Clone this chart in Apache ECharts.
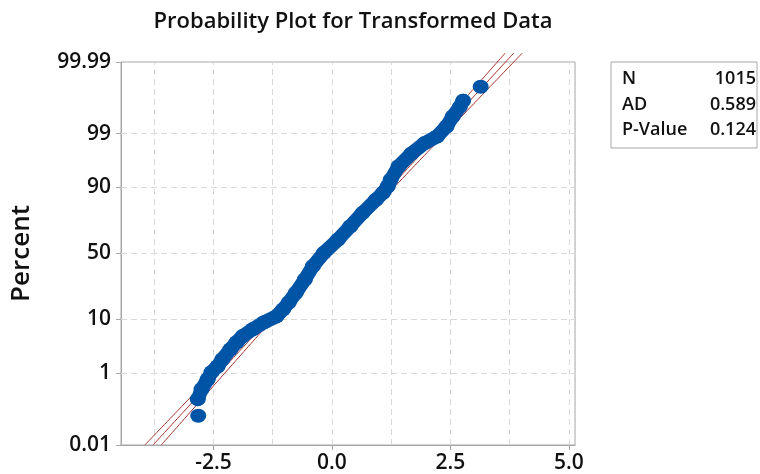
<!DOCTYPE html>
<html><head><meta charset="utf-8">
<script src="https://cdn.jsdelivr.net/npm/echarts@6/dist/echarts.min.js"></script>
<style>html,body{margin:0;padding:0;background:#fff}#c{width:760px;height:474px}</style>
</head><body><div id="c"></div>
<script>
// ---------- data ----------
const titleText = 'Probability Plot for Transformed Data';
const yAxisName = 'Percent';
const percentTicks = [0.01, 1, 10, 50, 90, 99, 99.99];
const percentTickLabels = ['0.01', '1', '10', '50', '90', '99', '99.99'];
const percentGrid = [1, 10, 50, 90, 99];
const xTicks = [-2.5, 0, 2.5, 5];
const xGrid = [-3.75, -2.5, -1.25, 0, 1.25, 2.5, 3.75, 5];
const xMin = -4.45, xMax = 5.13;

// transformed data values and their plotting percent
const dataX = [-2.82, -2.83, -2.75, -2.62, -2.54, -2.41, -2.31, -2.14, -2.01, -1.88,
  -1.67, -1.43, -1.17, -1.03, -0.91, -0.76, -0.57, -0.40, -0.17, 0.13,
  0.39, 0.65, 0.93, 1.08, 1.18, 1.24, 1.41, 1.68, 1.96, 2.22,
  2.42, 2.55, 2.70, 2.77, 3.14];
const dataPct = [0.081, 0.234, 0.42, 0.73, 1.06, 1.43, 2.0, 3.15, 4.24, 5.46,
  7.05, 9.07, 11.1, 13.9, 17.1, 22.3, 30.7, 40.3, 50.5, 60.7,
  70.2, 78.5, 85.2, 88.1, 90.4, 92.4, 95.5, 97.4, 98.4, 98.85,
  99.32, 99.61, 99.78, 99.85, 99.94];

// fitted normal line and 95% confidence band
const fitPct  = [0.01, 0.1, 1, 10, 50, 90, 99, 99.9, 99.995];
const fitX    = [-3.774, -3.145, -2.381, -1.337, -0.055, 1.227, 2.271, 3.035, 3.836];
const ciLowX  = [-3.947, -3.293, -2.499, -1.420, -0.117, 1.144, 2.153, 2.887, 3.656];
const ciHighX = [-3.601, -2.997, -2.263, -1.254, 0.007, 1.310, 2.389, 3.183, 4.016];

const statNames = ['N', 'AD', 'P-Value'];
const statValues = ['1015', '0.589', '0.124'];

// ---------- probability scale (inverse normal CDF) ----------
function probit(p) {
  const a = [-3.969683028665376e+01, 2.209460984245205e+02, -2.759285104469687e+02, 1.383577518672690e+02, -3.066479806614716e+01, 2.506628277459239e+00];
  const b = [-5.447609879822406e+01, 1.615858368580409e+02, -1.556989798598866e+02, 6.680131188771972e+01, -1.328068155288572e+01];
  const c = [-7.784894002430293e-03, -3.223964580411365e-01, -2.400758277161838e+00, -2.549732539343734e+00, 4.374664141464968e+00, 2.938163982698783e+00];
  const d = [7.784695709041462e-03, 3.224671290700398e-01, 2.445134137142996e+00, 3.754408661907416e+00];
  const pl = 0.02425, ph = 1 - pl;
  let q, r;
  if (p < pl) {
    q = Math.sqrt(-2 * Math.log(p));
    return (((((c[0]*q+c[1])*q+c[2])*q+c[3])*q+c[4])*q+c[5]) / ((((d[0]*q+d[1])*q+d[2])*q+d[3])*q+1);
  }
  if (p <= ph) {
    q = p - 0.5; r = q * q;
    return (((((a[0]*r+a[1])*r+a[2])*r+a[3])*r+a[4])*r+a[5])*q / (((((b[0]*r+b[1])*r+b[2])*r+b[3])*r+b[4])*r+1);
  }
  q = Math.sqrt(-2 * Math.log(1 - p));
  return -(((((c[0]*q+c[1])*q+c[2])*q+c[3])*q+c[4])*q+c[5]) / ((((d[0]*q+d[1])*q+d[2])*q+d[3])*q+1);
}
const z = pct => probit(pct / 100);

const yTickZ = percentTicks.map(z);
const yMin = yTickZ[0], yMax = yTickZ[yTickZ.length - 1];

const points = dataX.map((x, i) => [x, z(dataPct[i])]);
const bandPts = points.slice(1, points.length - 1);
const fitLine = fitX.map((x, i) => [x, z(fitPct[i])]);
const ciLow = ciLowX.map((x, i) => [x, z(fitPct[i])]);
const ciHigh = ciHighX.map((x, i) => [x, z(fitPct[i])]);

const FONT = '"Open Sans", "Noto Sans", sans-serif';
const W = 600;
const TXT = '#111';
const GRID_LINE = { color: '#d9d9d9', width: 1, type: [6, 4] };
const RED = '#a8302c';
const BLUE = '#0054a6';
const FRAME = '#a6a6a6';

const chart = echarts.init(document.getElementById('c'), null, { renderer: 'canvas' });

const gridMarks = [
  ...xGrid.map(v => ({ xAxis: v })),
  ...percentGrid.map(p => ({ yAxis: z(p) }))
];

chart.setOption({
  animation: false,
  backgroundColor: '#fff',
  title: {
    text: titleText,
    left: 348, top: 6, textAlign: 'center',
    textStyle: { fontFamily: FONT, fontSize: 22, fontWeight: W, color: TXT }
  },
  grid: { left: 121, right: 185, top: 62, bottom: 29, show: true, borderColor: FRAME, borderWidth: 1, containLabel: false, outerBoundsMode: 'none' },
  xAxis: {
    type: 'value', min: xMin, max: xMax,
    axisLine: { show: true, onZero: false, lineStyle: { color: FRAME } },
    axisTick: { show: true, length: 5, customValues: xTicks, lineStyle: { color: FRAME } },
    axisLabel: { customValues: xTicks, margin: 8, fontFamily: FONT, fontSize: 21, fontWeight: W, color: TXT,
      formatter: v => v.toFixed(1) },
    splitLine: { show: false }
  },
  yAxis: {
    type: 'value', min: yMin, max: yMax,
    name: yAxisName, nameLocation: 'middle', nameRotate: 90, nameGap: 86,
    nameTextStyle: { fontFamily: FONT, fontSize: 26, fontWeight: W, color: TXT },
    axisLine: { show: true, onZero: false, lineStyle: { color: FRAME } },
    axisTick: { show: true, length: 5, customValues: yTickZ, lineStyle: { color: FRAME } },
    axisLabel: { customValues: yTickZ, margin: 10, fontFamily: FONT, fontSize: 21, fontWeight: W, color: TXT,
      formatter: v => {
        let best = 0;
        yTickZ.forEach((t, i) => { if (Math.abs(t - v) < Math.abs(yTickZ[best] - v)) best = i; });
        return percentTickLabels[best];
      } },
    splitLine: { show: false }
  },
  series: [
    {
      type: 'line', data: [], silent: true, z: 1,
      markLine: { silent: true, z: 1, symbol: 'none', label: { show: false }, lineStyle: GRID_LINE, data: gridMarks, animation: false }
    },
    { type: 'line', data: ciLow, showSymbol: false, smooth: true, clip: false, z: 6, lineStyle: { color: RED, width: 1 } },
    { type: 'line', data: fitLine, showSymbol: false, smooth: true, clip: false, z: 6, lineStyle: { color: RED, width: 1 } },
    { type: 'line', data: ciHigh, showSymbol: false, smooth: true, clip: false, z: 6, lineStyle: { color: RED, width: 1 } },
    { type: 'line', data: bandPts, showSymbol: false, z: 8, lineStyle: { color: BLUE, width: 14, cap: 'round', join: 'round' } },
    { type: 'scatter', data: points, symbol: 'circle', symbolSize: [16, 14], z: 9, itemStyle: { color: BLUE, opacity: 1 } }
  ],
  graphic: [
    { type: 'rect', shape: { x: 611, y: 62, width: 146, height: 86 }, style: { fill: '#fff', stroke: FRAME, lineWidth: 1 } },
    ...statNames.map((t, i) => ({ type: 'text', x: 622, y: 79 + i * 25.5,
      style: { text: t, font: W + ' 18px ' + FONT, fill: TXT, align: 'left', verticalAlign: 'middle' } })),
    ...statValues.map((t, i) => ({ type: 'text', x: 756, y: 79 + i * 25.5,
      style: { text: t, font: W + ' 18px ' + FONT, fill: TXT, align: 'right', verticalAlign: 'middle' } }))
  ]
});
</script></body></html>
